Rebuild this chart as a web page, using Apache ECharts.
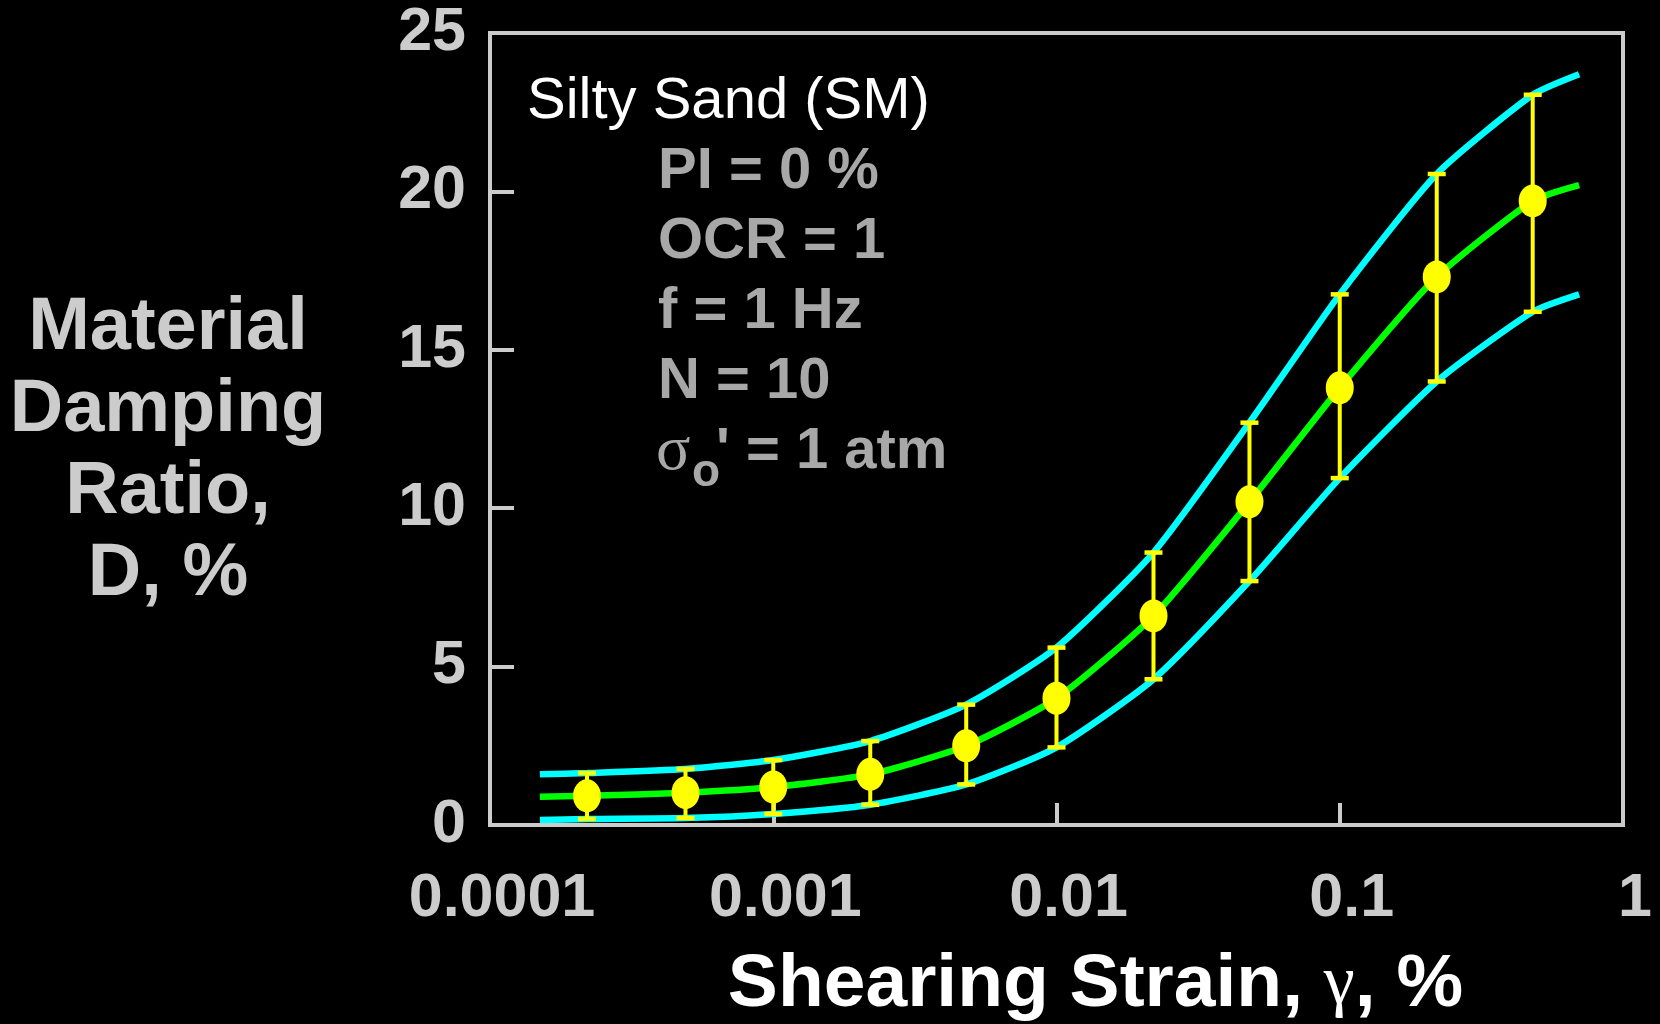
<!DOCTYPE html>
<html><head><meta charset="utf-8">
<script src="https://cdn.jsdelivr.net/npm/echarts@6/dist/echarts.min.js"></script>
<style>html,body{margin:0;padding:0;background:#000;} #c{width:1660px;height:1024px;}</style>
</head><body><div id="c"></div>
<script>
// Measured data points (shearing strain %, damping ratio %)
const strain    = [0.00022, 0.00049, 0.001, 0.0022, 0.0048, 0.01, 0.022, 0.048, 0.1, 0.22, 0.48];
const dampMean  = [0.92, 1.02, 1.2, 1.6, 2.5, 4.0, 6.6, 10.2, 13.8, 17.3, 19.7];
const dampHigh  = [1.64, 1.77, 2.05, 2.65, 3.8, 5.6, 8.6, 12.7, 16.75, 20.55, 23.05];
const dampLow   = [0.19, 0.22, 0.35, 0.64, 1.28, 2.45, 4.6, 7.7, 10.95, 14.0, 16.2];
// Fitted curves
const curveStrain = [0.00015, 0.00022, 0.00049, 0.001, 0.0022, 0.0048, 0.01, 0.022, 0.048, 0.1, 0.22, 0.48, 0.7];
const curveMean   = [0.89, 0.92, 1.02, 1.2, 1.6, 2.5, 4.0, 6.6, 10.2, 13.8, 17.3, 19.7, 20.2];
const curveUpper  = [1.6, 1.64, 1.77, 2.05, 2.65, 3.8, 5.6, 8.6, 12.7, 16.75, 20.55, 23.05, 23.7];
const curveLower  = [0.16, 0.19, 0.22, 0.35, 0.64, 1.28, 2.45, 4.6, 7.7, 10.95, 14.0, 16.2, 16.75];
// Tick labels
const xTickLabels = ['0.0001', '0.001', '0.01', '0.1', '1'];
const yTicks = [0, 5, 10, 15, 20, 25];

const FONT = '"Liberation Sans", Arial, sans-serif';
const SERIF = '"Liberation Serif", "DejaVu Serif", serif';

const chart = echarts.init(document.getElementById('c'));
const pair = (xs, ys) => xs.map((x, i) => [x, ys[i]]);
const note = (x, y, text, fill, font) => ({ type: 'text', x: x, y: y,
  style: { text: text, fill: fill, font: font, textAlign: 'left', textVerticalAlign: 'middle' } });

chart.setOption({
  backgroundColor: '#000000',
  animation: false,
  grid: { left: 490, right: 37, top: 33, bottom: 199, outerBoundsMode: 'none', containLabel: false,
    show: true, borderColor: '#cccccc', borderWidth: 4, backgroundColor: 'transparent' },
  xAxis: {
    type: 'log', logBase: 10, min: 0.0001, max: 1,
    axisLine: { show: false },
    axisTick: { show: true, inside: true, length: 22, lineStyle: { color: '#cccccc', width: 4 } },
    splitLine: { show: false },
    minorTick: { show: false },
    axisLabel: {
      color: '#cccccc', fontFamily: FONT, fontWeight: 'bold', fontSize: 61, margin: 44,
      padding: [0, 0, 0, 24],
      formatter: v => xTickLabels[Math.round(Math.log10(v)) + 4]
    },
    name: '{a|Shearing Strain, }{g|γ}{a|, %}',
    nameLocation: 'middle', nameGap: 120,
    nameTextStyle: {
      padding: [0, 0, 0, 78],
      rich: {
        a: { color: '#ffffff', fontFamily: FONT, fontWeight: 'bold', fontSize: 75, lineHeight: 80 },
        g: { color: '#ffffff', fontFamily: SERIF, fontWeight: 'normal', fontSize: 70, lineHeight: 80 }
      }
    }
  },
  yAxis: {
    type: 'value', min: 0, max: 25, interval: 5,
    axisLine: { show: false },
    axisTick: { show: true, inside: true, length: 24, lineStyle: { color: '#cccccc', width: 4 } },
    splitLine: { show: false },
    axisLabel: { color: '#cccccc', fontFamily: FONT, fontWeight: 'bold', fontSize: 61, margin: 24,
      formatter: v => yTicks.includes(v) ? String(v) : '' }
  },
  graphic: [
    { type: 'text', x: 168, y: 452, style: { text: 'Material\nDamping\nRatio,\nD, %', fill: '#cccccc',
      font: 'bold 74px ' + FONT, lineHeight: 82, textAlign: 'center', textVerticalAlign: 'middle' } },
    note(527, 102, 'Silty Sand (SM)', '#ffffff', 'normal 58px ' + FONT),
    note(658, 172, 'PI = 0 %', '#a8a8a8', 'bold 58px ' + FONT),
    note(658, 242, 'OCR = 1', '#a8a8a8', 'bold 58px ' + FONT),
    note(658, 312, 'f = 1 Hz', '#a8a8a8', 'bold 58px ' + FONT),
    note(658, 382, 'N = 10', '#a8a8a8', 'bold 58px ' + FONT),
    note(656, 452, 'σ', '#a8a8a8', 'normal 64px ' + SERIF),
    note(692, 473, 'o', '#a8a8a8', 'bold 46px ' + FONT),
    note(716, 452, "' = 1 atm", '#a8a8a8', 'bold 58px ' + FONT)
  ],
  series: [
    { type: 'line', data: pair(curveStrain, curveUpper), smooth: 0.2, symbol: 'none', lineStyle: { color: '#00ffff', width: 6.5 }, z: 2 },
    { type: 'line', data: pair(curveStrain, curveLower), smooth: 0.2, symbol: 'none', lineStyle: { color: '#00ffff', width: 6.5 }, z: 2 },
    { type: 'line', data: pair(curveStrain, curveMean), smooth: 0.2, symbol: 'none', lineStyle: { color: '#00ff00', width: 6.5 }, z: 3 },
    {
      type: 'custom', z: 4,
      data: strain.map((s, i) => [s, dampLow[i], dampHigh[i]]),
      encode: { x: 0, y: [1, 2] },
      renderItem: (params, api) => {
        const x = api.value(0);
        const pLo = api.coord([x, api.value(1)]);
        const pHi = api.coord([x, api.value(2)]);
        const hw = 9;
        return {
          type: 'group',
          children: [
            { type: 'line', shape: { x1: pLo[0], y1: pLo[1], x2: pHi[0], y2: pHi[1] }, style: { stroke: '#ffff00', lineWidth: 4 } },
            { type: 'line', shape: { x1: pLo[0] - hw, y1: pLo[1], x2: pLo[0] + hw, y2: pLo[1] }, style: { stroke: '#ffff00', lineWidth: 4.5 } },
            { type: 'line', shape: { x1: pHi[0] - hw, y1: pHi[1], x2: pHi[0] + hw, y2: pHi[1] }, style: { stroke: '#ffff00', lineWidth: 4.5 } }
          ]
        };
      }
    },
    {
      type: 'scatter', z: 5,
      data: pair(strain, dampMean),
      symbol: 'path://M0,50 A50,50 0 1 1 100,50 A50,50 0 1 1 0,50 Z',
      symbolSize: [28, 33],
      itemStyle: { color: '#ffff00', opacity: 1 }
    }
  ]
});
</script>
</body></html>
